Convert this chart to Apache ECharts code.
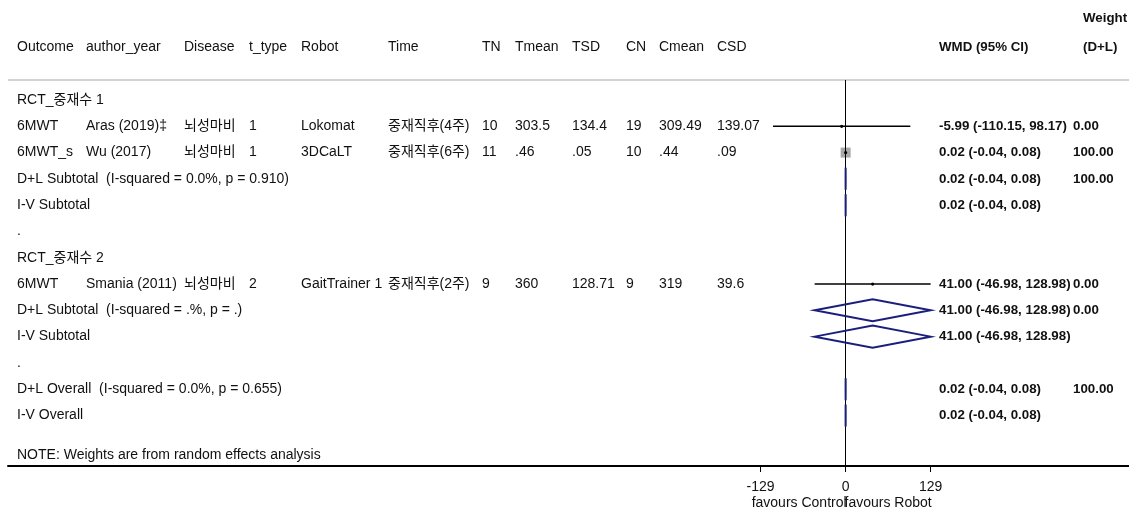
<!DOCTYPE html>
<html>
<head>
<meta charset="utf-8">
<title>Forest plot</title>
<script src="https://cdn.jsdelivr.net/npm/echarts@6/dist/echarts.min.js"></script>
</head>
<body style="margin:0;background:#fff;">
<div id="main" style="width:1129px;height:508px;"></div>
<script>
// column headers
var headers = ['Outcome', 'author_year', 'Disease', 't_type', 'Robot', 'Time', 'TN', 'Tmean', 'TSD', 'CN', 'Cmean', 'CSD'];

// individual studies
var studyRow = [1, 2, 7];
var outcome = ['6MWT', '6MWT_s', '6MWT'];
var author = ['Aras (2019)‡', 'Wu (2017)', 'Smania (2011)'];
var disease = ['뇌성마비', '뇌성마비', '뇌성마비'];
var tType = ['1', '1', '2'];
var robot = ['Lokomat', '3DCaLT', 'GaitTrainer 1'];
var time = ['중재직후(4주)', '중재직후(6주)', '중재직후(2주)'];
var tn = ['10', '11', '9'];
var tmean = ['303.5', '.46', '360'];
var tsd = ['134.4', '.05', '128.71'];
var cn = ['19', '10', '9'];
var cmean = ['309.49', '.44', '319'];
var csd = ['139.07', '.09', '39.6'];
var est = [-5.99, 0.02, 41.00];
var lo = [-110.15, -0.04, -46.98];
var hi = [98.17, 0.08, 128.98];
var weight = [0.00, 100.00, 0.00];

// pooled estimates
var poolRow = [3, 4, 8, 9, 11, 12];
var poolEst = [0.02, 0.02, 41.00, 41.00, 0.02, 0.02];
var poolLo = [-0.04, -0.04, -46.98, -46.98, -0.04, -0.04];
var poolHi = [0.08, 0.08, 128.98, 128.98, 0.08, 0.08];
var poolWeight = ['100.00', '', '0.00', '', '100.00', ''];

// text-only rows
var labelRow = [0, 3, 4, 5, 6, 8, 9, 10, 11, 12, 13.5];
var labelText = ['RCT_중재수 1', 'D+L Subtotal  (I-squared = 0.0%, p = 0.910)', 'I-V Subtotal', '.',
    'RCT_중재수 2', 'D+L Subtotal  (I-squared = .%, p = .)', 'I-V Subtotal', '.',
    'D+L Overall  (I-squared = 0.0%, p = 0.655)', 'I-V Overall', 'NOTE: Weights are from random effects analysis'];

var xTicks = [-129, 0, 129];
var overallEst = 0.02;
var favours = ['favours Control', 'favours Robot'];

// layout
var colX = [17, 86, 184, 249, 301, 388, 482, 515, 572, 626, 659, 717];
var effX = 939, wX = 1073;
var FONT = "14px 'Liberation Sans', Arial, 'Noto Sans CJK KR', sans-serif";
var BOLD = "bold 13.3px 'Liberation Sans', Arial, 'Noto Sans CJK KR', sans-serif";
var NAVY = '#1b1f7c';

function txt(x, y, s, font) {
    return { type: 'text', x: x, y: y, style: { text: s, font: font || FONT, fill: '#111', verticalAlign: 'middle', align: 'left' } };
}
function effText(e, l, h) {
    return e.toFixed(2) + ' (' + l.toFixed(2) + ', ' + h.toFixed(2) + ')';
}

var myChart = echarts.init(document.getElementById('main'));

var option = {
    animation: false,
    backgroundColor: '#fff',
    grid: { left: 8, right: 0, top: 80, bottom: 42 },
    xAxis: {
        type: 'value', min: -1271, max: 430, position: 'bottom',
        splitLine: { show: false },
        axisLine: { onZero: false, lineStyle: { color: '#000', width: 2 } },
        axisTick: { customValues: xTicks, length: 6, lineStyle: { color: '#000', width: 1 } },
        axisLabel: { customValues: xTicks, color: '#111', fontSize: 14, margin: 14, fontFamily: "'Liberation Sans', Arial, sans-serif" }
    },
    yAxis: { type: 'value', inverse: true, min: -0.76, max: 13.92, show: false },
    series: [
        {
            type: 'line', data: [], symbol: 'none', silent: true, z: 1,
            markLine: {
                symbol: 'none', silent: true, label: { show: false },
                data: [
                    { xAxis: overallEst, lineStyle: { color: '#c0392b', width: 1, type: [3, 3] } },
                    { xAxis: 0, lineStyle: { color: '#000', width: 1, type: 'solid' } }
                ]
            }
        },
        {
            type: 'custom', z: 3,
            data: labelRow.map(function (r) { return [0, r]; }),
            renderItem: function (params, api) {
                var y = api.coord([0, api.value(1)])[1];
                return txt(colX[0], y, labelText[params.dataIndex]);
            }
        },
        {
            type: 'custom', z: 4,
            data: est.map(function (e, i) { return [e, lo[i], hi[i], studyRow[i], weight[i]]; }),
            encode: { x: [0, 1, 2], y: 3 },
            renderItem: function (params, api) {
                var i = params.dataIndex;
                var r = api.value(3);
                var pE = api.coord([api.value(0), r]);
                var pL = api.coord([api.value(1), r]);
                var pH = api.coord([api.value(2), r]);
                var y = pE[1];
                var cols = [outcome[i], author[i], disease[i], tType[i], robot[i], time[i], tn[i], tmean[i], tsd[i], cn[i], cmean[i], csd[i]];
                var children = cols.map(function (s, k) { return txt(colX[k], y, s); });
                var side = Math.sqrt(api.value(4) / 100) * 10;
                if (side > 0) {
                    children.push({ type: 'rect', shape: { x: pE[0] - side / 2, y: y - side / 2, width: side, height: side }, style: { fill: '#a8a8a8' } });
                }
                children.push({ type: 'line', shape: { x1: pL[0], y1: y, x2: pH[0], y2: y }, style: { stroke: '#000', lineWidth: 1.5 } });
                children.push({ type: 'circle', shape: { cx: pE[0], cy: y, r: 1.6 }, style: { fill: '#000' } });
                children.push(txt(effX, y, effText(est[i], lo[i], hi[i]), BOLD));
                children.push(txt(wX, y, weight[i].toFixed(2), BOLD));
                return { type: 'group', children: children };
            }
        },
        {
            type: 'custom', z: 5,
            data: poolEst.map(function (e, i) { return [e, poolLo[i], poolHi[i], poolRow[i]]; }),
            encode: { x: [0, 1, 2], y: 3 },
            renderItem: function (params, api) {
                var i = params.dataIndex;
                var r = api.value(3);
                var pE = api.coord([api.value(0), r]);
                var pL = api.coord([api.value(1), r]);
                var pH = api.coord([api.value(2), r]);
                var y = pE[1], h = 11;
                var children = [
                    { type: 'polygon', shape: { points: [[pL[0], y], [pE[0], y - h], [pH[0], y], [pE[0], y + h]] },
                      style: { fill: 'none', stroke: NAVY, lineWidth: 2 } },
                    txt(effX, y, effText(poolEst[i], poolLo[i], poolHi[i]), BOLD)
                ];
                if (poolWeight[i]) children.push(txt(wX, y, poolWeight[i], BOLD));
                return { type: 'group', children: children };
            }
        }
    ]
};
myChart.setOption(option);

// header texts, rule and axis captions
var g = [];
headers.forEach(function (h, k) {
    g.push({ type: 'text', x: colX[k], y: 47, style: { text: h, font: FONT, fill: '#111', verticalAlign: 'middle' } });
});
g.push({ type: 'text', x: effX, y: 47, style: { text: 'WMD (95% CI)', font: BOLD, fill: '#111', verticalAlign: 'middle' } });
g.push({ type: 'text', x: 1083, y: 18, style: { text: 'Weight', font: BOLD, fill: '#111', verticalAlign: 'middle' } });
g.push({ type: 'text', x: 1083, y: 47, style: { text: '(D+L)', font: BOLD, fill: '#111', verticalAlign: 'middle' } });
g.push({ type: 'line', shape: { x1: 8, y1: 80, x2: 1129, y2: 80 }, style: { stroke: '#c4c4c4', lineWidth: 1.5 } });
var cL = myChart.convertToPixel({ xAxisIndex: 0 }, xTicks[0] / 2);
var cR = myChart.convertToPixel({ xAxisIndex: 0 }, xTicks[2] / 2);
g.push({ type: 'text', x: cL - 4, y: 503, style: { text: favours[0], font: FONT, fill: '#111', align: 'center', verticalAlign: 'middle' } });
g.push({ type: 'text', x: cR, y: 503, style: { text: favours[1], font: FONT, fill: '#111', align: 'center', verticalAlign: 'middle' } });
myChart.setOption({ graphic: g });
</script>
</body>
</html>
